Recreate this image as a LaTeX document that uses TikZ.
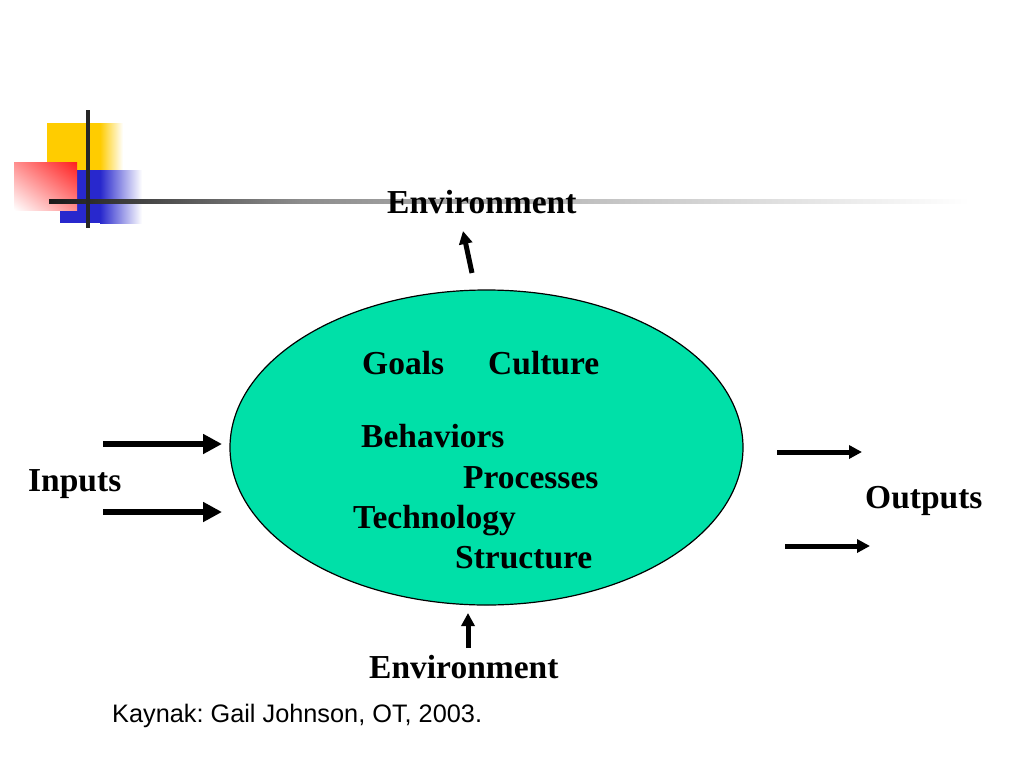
\documentclass[tikz,border=0pt]{standalone}
\usepackage{fontspec}
\setmainfont{Liberation Serif}
\newfontfamily\kaynakfont{Liberation Sans}
\usetikzlibrary{arrows.meta,shapes.geometric,shadings}
\definecolor{orggreen}{RGB}{0,224,168}
\definecolor{decoyellow}{RGB}{255,204,0}
\definecolor{decoblue}{RGB}{40,40,205}
\definecolor{decored}{RGB}{255,30,30}
\tikzset{
  word/.style={anchor=base west,inner sep=0pt,font=\fontsize{33.5}{40}\selectfont\bfseries},
  fat arrow/.style={line width=6pt,-{Triangle[length=19pt,width=19pt]}},
  slim arrow/.style={line width=5pt,-{Triangle[length=13pt,width=13pt]}}
}
\begin{document}
\frenchspacing
\begin{tikzpicture}[x=1pt,y=-1pt]
  \useasboundingbox (0,0) rectangle (1024,768);
  \fill[white] (0,0) rectangle (1024,768); % background
  % corner decoration
  \fill[decoyellow] (47,123) rectangle (100,170); % yellow square
  \shade[left color=decoyellow,right color=white] (100,123) rectangle (123,170); % yellow fade
  \fill[decoblue] (60,170) rectangle (100,223); % blue square
  \shade[left color=decoblue,right color=white] (100,170) rectangle (142,223); % blue fade
  \shade[upper right=decored,upper left=decored!50,lower right=decored!50,lower left=white] (14,162) rectangle (77,210); % red square
  \shade[left color=black!90,right color=black!45] (49,199) rectangle (300,203.5); % title rule
  \shade[left color=black!45,right color=black!25] (300,199) rectangle (580,203.5); % title rule fade
  \shade[left color=black!25,right color=white] (580,199) rectangle (970,203.5); % title rule fade
  \fill[black!85] (85.5,110) rectangle (89.5,228); % vertical rule
  % organisation
  \node[ellipse,draw,line width=1.2pt,fill=orggreen,minimum width=513pt,minimum height=315pt,inner sep=0pt] (org) at (486.5,447.5) {};
  \node[word] (goals) at (362,374) {Goals};
  \node[word] (culture) at (488,374) {Culture};
  \node[word] (behav) at (361,447) {Behaviors};
  \node[word] (proc) at (463,488) {Processes};
  \node[word] (tech) at (353,528) {Technology};
  \node[word] (struct) at (455,568) {Structure};
  % surroundings
  \node[word] (envtop) at (387,213) {Environment};
  \node[word] (envbot) at (369,678) {Environment};
  \node[word] (inputs) at (28,491) {Inputs};
  \node[word] (outputs) at (865,508) {Outputs};
  \node[anchor=base west,inner sep=0pt,font=\kaynakfont\fontsize{25.3}{30}\selectfont] (source) at (112,722) {Kaynak: Gail Johnson, OT, 2003.};
  % arrows
  \coordinate (in1a) at (103,444); \coordinate (in1b) at (222,444);
  \coordinate (in2a) at (103,512); \coordinate (in2b) at (222,512);
  \coordinate (out1a) at (777,452); \coordinate (out1b) at (862,452);
  \coordinate (out2a) at (785,546); \coordinate (out2b) at (870,546);
  \coordinate (upa) at (472,273); \coordinate (upb) at (463,231);
  \coordinate (lowa) at (468,648); \coordinate (lowb) at (468,613);
  \draw[fat arrow] (in1a) -- (in1b); % input arrow
  \draw[fat arrow] (in2a) -- (in2b); % input arrow
  \draw[slim arrow] (out1a) -- (out1b); % output arrow
  \draw[slim arrow] (out2a) -- (out2b); % output arrow
  \draw[slim arrow] (upa) -- (upb); % arrow to environment
  \draw[slim arrow] (lowa) -- (lowb); % arrow from environment
\end{tikzpicture}
\end{document}
